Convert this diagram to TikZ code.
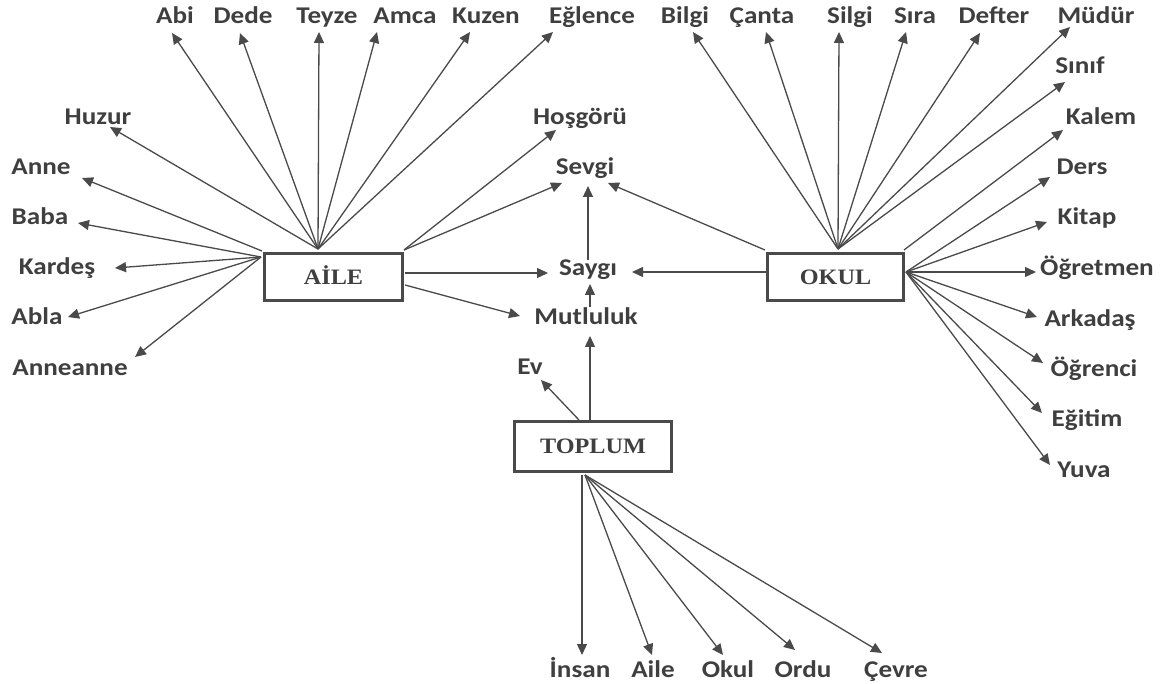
\documentclass[tikz,border=0pt]{standalone}
\usepackage{fontspec}
\usetikzlibrary{arrows.meta}
\newfontfamily\labfont[FakeStretch=1.13]{Carlito}
\newfontfamily\boxfont[FakeStretch=1.1]{Liberation Serif}
\definecolor{txt}{HTML}{3F3F3F}
\definecolor{ln}{HTML}{4A4A4A}
\begin{document}
\begin{tikzpicture}[x=1pt,y=-1pt,
  lab/.style={font=\labfont\bfseries\fontsize{24}{28}\selectfont, text=txt, inner sep=0pt, anchor=base},
  cbox/.style={draw=ln, line width=3pt, font=\boxfont\bfseries\fontsize{22}{26}\selectfont, text=txt, inner sep=0pt, text height=14.5pt, text depth=0pt},
  arr/.style={draw=ln, line width=1.3pt, -{Triangle[length=11pt,width=10pt]}}]
\fill[white] (0,0) rectangle (1165,684);
\useasboundingbox (0,0) rectangle (1165,684);

% boxes
\node[cbox, minimum width=138pt, minimum height=47pt] (aile) at (333.5,277) {AİLE};
\node[cbox, minimum width=136pt, minimum height=47pt] (okul) at (835.5,277) {OKUL};
\node[cbox, minimum width=157pt, minimum height=50pt] (toplum) at (593,446.5) {TOPLUM};

% top labels
\node[lab] (abi) at (175,24) {Abi};
\node[lab] (dede) at (243,24) {Dede};
\node[lab] (teyze) at (327,24) {Teyze};
\node[lab] (amca) at (405,24) {Amca};
\node[lab] (kuzen) at (486,24) {Kuzen};
\node[lab] (eglence) at (592,24) {Eğlence};
\node[lab] (bilgi) at (685,24) {Bilgi};
\node[lab] (canta) at (762,24) {Çanta};
\node[lab] (silgi) at (850,24) {Silgi};
\node[lab] (sira) at (915,24) {Sıra};
\node[lab] (defter) at (994,24) {Defter};
\node[lab] (mudur) at (1096,24) {Müdür};
% left labels
\node[lab] (huzur) at (98,125) {Huzur};
\node[lab] (anne) at (41,175) {Anne};
\node[lab] (baba) at (40,225) {Baba};
\node[lab] (kardes) at (57,275) {Kardeş};
\node[lab] (abla) at (37,325) {Abla};
\node[lab] (anneanne) at (70,376) {Anneanne};
% middle labels
\node[lab] (hosgoru) at (580,125) {Hoşgörü};
\node[lab] (sevgi) at (585,175) {Sevgi};
\node[lab] (saygi) at (588,276) {Saygı};
\node[lab] (mutluluk) at (586,325) {Mutluluk};
\node[lab] (ev) at (530,375) {Ev};
% right labels
\node[lab] (sinif) at (1080,74) {Sınıf};
\node[lab] (kalem) at (1101,125) {Kalem};
\node[lab] (ders) at (1082,175) {Ders};
\node[lab] (kitap) at (1087,225) {Kitap};
\node[lab] (ogretmen) at (1097,276) {Öğretmen};
\node[lab] (arkadas) at (1090,327) {Arkadaş};
\node[lab] (ogrenci) at (1094,377) {Öğrenci};
\node[lab] (egitim) at (1087,427) {Eğitim};
\node[lab] (yuva) at (1084,477) {Yuva};
% bottom labels
\node[lab] (insan) at (580,677) {İnsan};
\node[lab] (aile2) at (653,677) {Aile};
\node[lab] (okul2) at (728,677) {Okul};
\node[lab] (ordu) at (803,677) {Ordu};
\node[lab] (cevre) at (896,677) {Çevre};

% fan origins
\coordinate (aT) at (318,249);
\coordinate (aTL) at (262,251);
\coordinate (aL) at (261,257);
\coordinate (aTR) at (404,250);
\coordinate (aR1) at (405,273);
\coordinate (aR2) at (405,285);
\coordinate (oTL) at (765,250);
\coordinate (oL) at (766,272);
\coordinate (oT) at (838,249);
\coordinate (oTR) at (904,250);
\coordinate (oR) at (906,272);
\coordinate (tT1) at (579,420);
\coordinate (tT2) at (590,420);
\coordinate (tB) at (585,475);
\coordinate (tB0) at (582,475);
\coordinate (sgT) at (588,260);
\coordinate (mtT) at (590,307);

% tips
\coordinate (xAbi) at (172,33);
\coordinate (xDede) at (240,33);
\coordinate (xTeyze) at (319,32);
\coordinate (xAmca) at (377,32);
\coordinate (xKuzen) at (470,32);
\coordinate (xEglence) at (553,32);
\coordinate (xHuzur) at (110,127);
\coordinate (xAnne) at (82,178);
\coordinate (xBaba) at (78,223);
\coordinate (xKardes) at (115,268);
\coordinate (xAbla) at (68,317);
\coordinate (xAnneanne) at (135,357);
\coordinate (xHosgoru) at (556,130);
\coordinate (xSevgiA) at (562,183);
\coordinate (xSevgiO) at (608,183);
\coordinate (xSevgiS) at (588,186);
\coordinate (xSaygiA) at (548,273);
\coordinate (xSaygiO) at (632,272);
\coordinate (xSaygiM) at (590,284);
\coordinate (xMutA) at (520,316);
\coordinate (xMutT) at (590,336);
\coordinate (xEv) at (541,380);
\coordinate (xBilgi) at (693,32);
\coordinate (xCanta) at (766,32);
\coordinate (xSilgi) at (839,32);
\coordinate (xSira) at (906,32);
\coordinate (xDefter) at (980,33);
\coordinate (xMudur) at (1070,27);
\coordinate (xSinif) at (1065,82);
\coordinate (xKalem) at (1063,130);
\coordinate (xDers) at (1050,177);
\coordinate (xKitap) at (1047,222);
\coordinate (xOgretmen) at (1036,272);
\coordinate (xArkadas) at (1037,317);
\coordinate (xOgrenci) at (1043,363);
\coordinate (xEgitim) at (1042,413);
\coordinate (xYuva) at (1050,465);
\coordinate (xInsan) at (582,655);
\coordinate (xAile) at (652,655);
\coordinate (xOkul) at (723,655);
\coordinate (xOrdu) at (795,650);
\coordinate (xCevre) at (882,653);

% AILE arrows
\foreach \t in {xAbi,xDede,xTeyze,xAmca,xKuzen,xEglence,xHuzur} \draw[arr] (aT) -- (\t);
\draw[arr] (aTL) -- (xAnne);
\foreach \t in {xBaba,xKardes,xAbla,xAnneanne} \draw[arr] (aL) -- (\t);
\draw[arr] (aTR) -- (xHosgoru);
\draw[arr] (aTR) -- (xSevgiA);
\draw[arr] (aR1) -- (xSaygiA);
\draw[arr] (aR2) -- (xMutA);
% OKUL arrows
\draw[arr] (oTL) -- (xSevgiO);
\draw[arr] (oL) -- (xSaygiO);
\foreach \t in {xBilgi,xCanta,xSilgi,xSira,xDefter,xMudur,xSinif} \draw[arr] (oT) -- (\t);
\draw[arr] (oTR) -- (xKalem);
\foreach \t in {xDers,xKitap,xOgretmen,xArkadas,xOgrenci,xEgitim,xYuva} \draw[arr] (oR) -- (\t);
% middle
\draw[arr] (sgT) -- (xSevgiS);
\draw[arr] (mtT) -- (xSaygiM);
\draw[arr] (tT2) -- (xMutT);
\draw[arr] (tT1) -- (xEv);
% TOPLUM bottom
\draw[arr] (tB0) -- (xInsan);
\foreach \t in {xAile,xOkul,xOrdu,xCevre} \draw[arr] (tB) -- (\t);
\end{tikzpicture}
\end{document}
